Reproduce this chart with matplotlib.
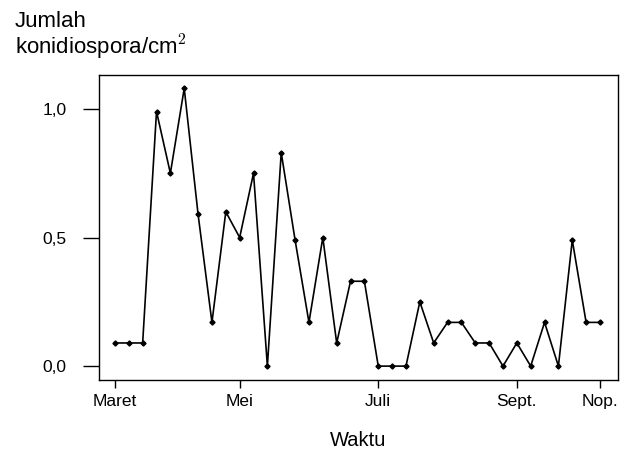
import matplotlib
matplotlib.use("Agg")
import matplotlib.pyplot as plt
import numpy as np

plt.rcParams['font.family'] = ['Liberation Sans', 'DejaVu Sans']
plt.rcParams['mathtext.fontset'] = 'cm'

# nilai konidiospora per pengamatan (Maret - Nop.)
values = [0.09, 0.09, 0.09, 0.99, 0.75, 1.08, 0.59, 0.17, 0.60, 0.50,
          0.75, 0.00, 0.83, 0.49, 0.17, 0.50, 0.09, 0.33, 0.33, 0.00,
          0.00, 0.00, 0.25, 0.09, 0.17, 0.17, 0.09, 0.09, 0.00, 0.09,
          0.00, 0.17, 0.00, 0.49, 0.17, 0.17]
month_pos = [0, 9, 19, 29, 35]
month_labels = ['Maret', 'Mei', 'Juli', 'Sept.', 'Nop.']
ytick_vals = [0.0, 0.5, 1.0]
ytick_labels = ['0,0', '0,5', '1,0']

fig = plt.figure(figsize=(6.26, 4.59), dpi=100)
ax = fig.add_axes([99/626, 1 - 380/459, (618-99)/626, (380-75)/459])

x = np.arange(len(values))
ax.plot(x, values, color='black', lw=1.2, marker='D', ms=2.6)

ax.set_xlim(-1.15, 36.3)
ax.set_ylim(-0.054, 1.132)
ax.set_xticks(month_pos)
ax.set_xticklabels(month_labels, fontsize=12.5)
ax.set_yticks(ytick_vals)
ax.set_yticklabels(ytick_labels, fontsize=12.5)
ax.tick_params(axis='x', direction='out', length=6, width=1, pad=4)
ax.tick_params(axis='y', direction='out', length=11.5, width=1, pad=12)
for s in ax.spines.values():
    s.set_linewidth(1)

fig.text(358/626, 1 - 441/459, 'Waktu', ha='center', va='center', fontsize=14.5)
fig.text(15/626, 1 - 27/459, 'Jumlah', ha='left', va='baseline', fontsize=16)
fig.text(15/626, 1 - 55/459, 'konidiospora/cm$^{\\mathsf{2}}$', ha='left', va='baseline', fontsize=16)

fig.savefig('out.png', dpi=100)
